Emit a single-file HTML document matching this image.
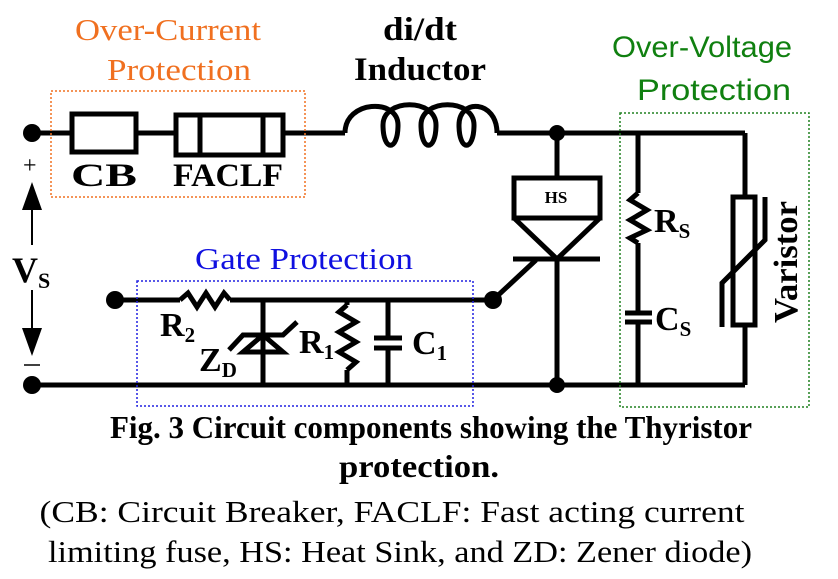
<!DOCTYPE html>
<html><head><style>
body{margin:0;background:#fff;}
svg{display:block}
</style></head><body>
<svg width="838" height="579" viewBox="0 0 838 579" xmlns="http://www.w3.org/2000/svg" font-family="Liberation Serif, serif">
<g fill="none" stroke="#000" stroke-width="5">
<line x1="32" y1="133" x2="72" y2="133"/>
<rect x="72" y="114" width="64" height="38"/>
<line x1="136" y1="133" x2="176" y2="133"/>
<rect x="176" y="115" width="107" height="40"/>
<line x1="200" y1="115" x2="200" y2="155"/>
<line x1="263" y1="115" x2="263" y2="155"/>
<line x1="283" y1="133" x2="345" y2="133"/>
<path d="M345,133 C345,100 398,98 398,125 C398,152 383,152 383,125 C383,98 436,98 436,125 C436,152 421,152 421,125 C421,98 474,98 474,125 C474,152 459,152 459,125 C459,98 497,100 497,133"/>
<line x1="497" y1="133" x2="745" y2="133"/>
<line x1="32" y1="385" x2="745" y2="385"/>
<line x1="557" y1="133" x2="557" y2="178"/>
<rect x="514" y="178" width="86" height="40"/>
<path d="M514,218 L557,259 L600,218"/>
<line x1="513" y1="259" x2="600" y2="259"/>
<line x1="557" y1="259" x2="557" y2="385"/>
<line x1="536" y1="260" x2="493" y2="300"/>
<line x1="638" y1="133" x2="638" y2="193"/>
<path d="M638,193 L630,200 L647,210 L630,220 L647,230 L630,238 L638,243"/>
<line x1="638" y1="243" x2="638" y2="313"/>
<line x1="625" y1="313" x2="652" y2="313"/>
<line x1="625" y1="322" x2="652" y2="322"/>
<line x1="638" y1="322" x2="638" y2="385"/>
<line x1="745" y1="133" x2="745" y2="197"/>
<rect x="733" y="197" width="22" height="128"/>
<line x1="745" y1="325" x2="745" y2="385"/>
<path d="M722,327 L722,283 L765,240 L765,197"/>
<line x1="115" y1="300" x2="180" y2="300"/>
<path d="M180,300 L188,293 L197,307 L206,293 L215,307 L224,293 L230,300"/>
<line x1="230" y1="300" x2="493" y2="300"/>
<line x1="263" y1="300" x2="263" y2="385"/>
<path d="M243,352 L283,352 L263,335 Z"/>
<path d="M229,350 L243,335 L283,335 L297,322"/>
<line x1="347" y1="300" x2="347" y2="305"/>
<path d="M347,305 L339,312 L356,322 L339,332 L356,342 L339,352 L356,362 L347,370"/>
<line x1="347" y1="370" x2="347" y2="385"/>
<line x1="388" y1="300" x2="388" y2="338"/>
<line x1="374" y1="338" x2="402" y2="338"/>
<line x1="374" y1="348" x2="402" y2="348"/>
<line x1="388" y1="348" x2="388" y2="385"/>
</g>
<g fill="#000">
<circle cx="32" cy="133" r="9"/><circle cx="32" cy="385" r="9"/>
<circle cx="557" cy="133" r="8"/><circle cx="557" cy="385" r="8"/>
<circle cx="115" cy="300" r="9"/><circle cx="493" cy="300" r="9"/>
</g>
<rect x="51" y="91" width="254" height="106" fill="none" stroke="#f07020" stroke-width="1.5" stroke-dasharray="2,2"/>
<rect x="137" y="281" width="336" height="125" fill="none" stroke="#2020e0" stroke-width="1.5" stroke-dasharray="2,2"/>
<rect x="620" y="113" width="189" height="294" fill="none" stroke="#208020" stroke-width="1.5" stroke-dasharray="2,2"/>
<g stroke="#000" stroke-width="2"><line x1="32" y1="200" x2="32" y2="245"/><line x1="32" y1="290" x2="32" y2="335"/></g>
<path d="M22,210 L32,182 L42,210 Z M22,328 L32,356 L42,328 Z" fill="#000"/>
<text x="23" y="173" font-size="24">+</text>
<line x1="24" y1="365" x2="40" y2="365" stroke="#000" stroke-width="1.5"/>
<text x="12" y="282" font-size="36" font-weight="bold">V<tspan font-size="22" dy="6">S</tspan></text>
<g font-weight="bold" font-size="33" text-anchor="middle">
<text x="104" y="186" textLength="66" lengthAdjust="spacingAndGlyphs">CB</text>
<text x="228" y="186" textLength="110" lengthAdjust="spacingAndGlyphs">FACLF</text>
<text x="420" y="40" textLength="74" lengthAdjust="spacingAndGlyphs">di/dt</text>
<text x="420" y="80" textLength="132" lengthAdjust="spacingAndGlyphs">Inductor</text>
</g>
<text x="556" y="203" font-size="17" font-weight="bold" text-anchor="middle">HS</text>
<text x="654" y="232" font-size="34" font-weight="bold">R<tspan font-size="21" dy="6">S</tspan></text>
<text x="655" y="330" font-size="34" font-weight="bold">C<tspan font-size="21" dy="6">S</tspan></text>
<text transform="translate(797,262) rotate(-90)" font-size="34" font-weight="bold" text-anchor="middle" textLength="122" lengthAdjust="spacingAndGlyphs">Varistor</text>
<text x="160" y="336" font-size="34" font-weight="bold">R<tspan font-size="21" dy="6">2</tspan></text>
<text x="199" y="371" font-size="34" font-weight="bold">Z<tspan font-size="21" dy="6">D</tspan></text>
<text x="299" y="353" font-size="34" font-weight="bold">R<tspan font-size="21" dy="6">1</tspan></text>
<text x="412" y="354" font-size="34" font-weight="bold">C<tspan font-size="21" dy="6">1</tspan></text>
<g font-size="31" text-anchor="middle">
<text x="168" y="40" fill="#f07020" textLength="186" lengthAdjust="spacingAndGlyphs">Over-Current</text>
<text x="179" y="80" fill="#f07020" textLength="144" lengthAdjust="spacingAndGlyphs">Protection</text>
<text x="304" y="269" fill="#1010e0" textLength="218" lengthAdjust="spacingAndGlyphs">Gate Protection</text>
</g>
<g font-family="Liberation Sans, sans-serif" font-size="30" fill="#108010" text-anchor="middle">
<text x="702" y="57" textLength="180" lengthAdjust="spacingAndGlyphs">Over-Voltage</text>
<text x="714" y="100" textLength="154" lengthAdjust="spacingAndGlyphs">Protection</text>
</g>
<g text-anchor="middle">
<text x="431" y="438" font-size="32" font-weight="bold" textLength="642" lengthAdjust="spacingAndGlyphs">Fig. 3 Circuit components showing the Thyristor</text>
<text x="419" y="477" font-size="32" font-weight="bold" textLength="160" lengthAdjust="spacingAndGlyphs">protection.</text>
<text x="392" y="522" font-size="31" textLength="705" lengthAdjust="spacingAndGlyphs">(CB: Circuit Breaker, FACLF: Fast acting current</text>
<text x="400" y="562" font-size="31" textLength="704" lengthAdjust="spacingAndGlyphs">limiting fuse, HS: Heat Sink, and ZD: Zener diode)</text>
</g>
</svg>
</body></html>
